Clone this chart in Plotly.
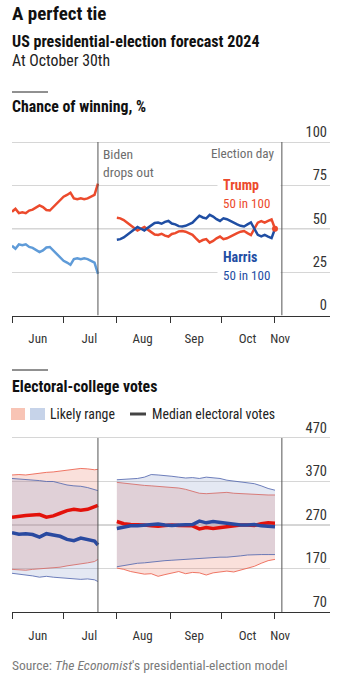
import pandas as pd
import plotly.graph_objects as go

# ---------------- data ----------------
# Chance of winning, % (top panel)
biden_period_dates = pd.date_range("2024-06-01", "2024-07-21", freq="2D")
trump_prob_biden_period = [59.8, 61.5, 59.0, 59.5, 59.0, 60.5, 61.0, 62.2, 63.5, 62.5, 60.8, 60.5, 62.5,
                           64.0, 66.5, 68.5, 69.5, 70.8, 67.5, 67.0, 67.5, 67.0, 67.5, 68.5, 69.5, 76.0]
biden_prob = [40.2, 38.5, 41.0, 40.5, 41.0, 39.5, 39.0, 37.8, 36.5, 37.5, 39.2, 39.5, 37.5,
              36.0, 33.5, 31.5, 30.5, 29.2, 32.5, 33.0, 32.5, 33.0, 32.5, 31.5, 30.5, 24.0]

harris_period_dates = pd.date_range("2024-08-01", "2024-11-01", freq="2D")
harris_prob = [43.7, 44.0, 45.0, 46.5, 48.0, 49.5, 51.0, 50.0, 49.0, 50.5, 52.0, 53.3, 53.6, 52.9, 54.0,
               54.5, 53.0, 52.5, 51.5, 51.3, 51.7, 52.5, 53.5, 55.6, 57.5, 56.5, 56.0, 58.0, 57.0, 55.5,
               54.5, 56.0, 55.5, 54.5, 53.3, 52.5, 51.7, 51.3, 52.5, 53.6, 50.0, 46.5, 45.6, 46.5, 45.5,
               44.6, 50.0]
trump_prob_harris_period = [56.3, 56.0, 55.0, 53.5, 52.0, 50.5, 49.0, 50.0, 51.0, 49.5, 48.0, 46.7, 46.4,
                            47.1, 46.0, 45.5, 47.0, 47.5, 48.5, 48.7, 48.3, 47.5, 46.5, 44.4, 42.5, 43.5,
                            44.0, 42.0, 43.0, 44.5, 45.5, 44.0, 44.5, 45.5, 46.7, 47.5, 48.3, 48.7, 47.5,
                            46.4, 50.0, 53.5, 54.4, 53.5, 54.5, 55.4, 50.0]

# Electoral-college votes (bottom panel)
ev_biden_dates = list(pd.date_range("2024-06-01", periods=13, freq="4D")) + [pd.Timestamp("2024-07-21")]
trump_ev_med_b = [288, 291, 292, 293, 294, 288, 291, 297, 303, 306, 304, 306, 311, 315]
trump_ev_hi_b = [385, 386, 385, 387, 390, 391, 392, 394, 397, 398, 400, 399, 397, 398]
trump_ev_lo_b = [168, 167, 166, 168, 169, 170, 171, 173, 176, 178, 180, 183, 186, 191]
biden_ev_med = [252, 249, 250, 248, 242, 250, 247, 244, 237, 234, 240, 237, 233, 224]
biden_ev_hi = [377, 376, 375, 374, 372, 370, 370, 366, 362, 360, 359, 356, 352, 349]
biden_ev_lo = [159, 157, 156, 153, 150, 152, 150, 149, 147, 146, 145, 146, 144, 140]

ev_harris_dates = pd.date_range("2024-08-01", "2024-11-01", freq="4D")
harris_ev_med = [262, 266, 268, 268, 269, 271, 272, 270, 269, 270, 270, 271, 279, 275, 278, 276, 272, 271,
                 270, 270, 271, 268, 266, 266]
harris_ev_hi = [374, 375, 376, 377, 380, 386, 385, 384, 382, 380, 378, 379, 377, 380, 379, 377, 373, 371,
                369, 368, 365, 360, 354, 350]
harris_ev_lo = [174, 177, 179, 182, 183, 185, 186, 188, 189, 190, 191, 192, 194, 195, 195, 196, 196, 197,
                199, 201, 202, 202, 202, 202]
trump_ev_med_h = [278, 273, 271, 271, 270, 268, 267, 269, 270, 269, 269, 268, 261, 264, 262, 264, 267, 268,
                  270, 270, 269, 273, 275, 274]
trump_ev_hi_h = [368, 366, 364, 362, 361, 360, 359, 357, 356, 355, 352, 348, 343, 342, 343, 344, 345, 343,
                 342, 341, 340, 340, 339, 339]
trump_ev_lo_h = [171, 168, 163, 160, 157, 158, 152, 156, 160, 163, 158, 161, 160, 155, 160, 162, 164, 162,
                 166, 170, 175, 182, 188, 191]

month_starts = ["2024-06-01", "2024-07-01", "2024-08-01", "2024-09-01", "2024-10-01", "2024-11-01"]
month_label_pos = ["2024-06-16", "2024-07-16", "2024-08-16", "2024-09-15", "2024-10-16", "2024-11-04"]
month_labels = ["Jun", "Jul", "Aug", "Sep", "Oct", "Nov"]
prob_ticks = [0, 25, 50, 75, 100]
ev_ticks = [70, 170, 270, 370, 470]
biden_out = "2024-07-21"
election_day = "2024-11-05"

# ---------------- style ----------------
FONT = "Roboto Condensed, Roboto, sans-serif"
TRUMP = "#ec4a2c"
HARRIS = "#1f4ea3"
BIDEN = "#5f9bd8"
EV_RED = "#e3120b"
EV_BLUE = "#2a4aa0"
RED_FILL = "rgba(235,135,115,0.26)"
BLUE_FILL = "rgba(130,150,200,0.22)"
RED_EDGE = "rgba(236,95,75,0.85)"
BLUE_EDGE = "rgba(85,105,175,0.85)"
GRID = "#d6d6d6"
W, H = 361, 675
ML, MR = 12, 31
PW = W - ML - MR
TOP_PX_PER_UNIT = 1.735
BOT_PX_PER_UNIT = 0.435
TOP_RANGE = [0, 112]
BOT_RANGE = [70, 515]


def px_x(p):
    return (p - ML) / PW


def px_y(p):
    return 1 - p / H


fig = go.Figure()

# ---------- top panel ----------
fig.add_trace(go.Scatter(x=biden_period_dates, y=biden_prob, mode="lines",
                         line=dict(color=BIDEN, width=2.5), xaxis="x", yaxis="y"))
fig.add_trace(go.Scatter(x=biden_period_dates, y=trump_prob_biden_period, mode="lines",
                         line=dict(color=TRUMP, width=2.5), xaxis="x", yaxis="y"))
fig.add_trace(go.Scatter(x=harris_period_dates, y=trump_prob_harris_period, mode="lines",
                         line=dict(color=TRUMP, width=2.5), xaxis="x", yaxis="y"))
fig.add_trace(go.Scatter(x=harris_period_dates, y=harris_prob, mode="lines",
                         line=dict(color=HARRIS, width=2.5), xaxis="x", yaxis="y"))
fig.add_trace(go.Scatter(x=[harris_period_dates[-1]], y=[trump_prob_harris_period[-1]], mode="markers",
                         marker=dict(color=TRUMP, size=6), xaxis="x", yaxis="y"))

# ---------- bottom panel ----------
def band(x, hi, lo, fill, edge):
    fig.add_trace(go.Scatter(x=x, y=hi, mode="lines", line=dict(color=edge, width=1),
                             xaxis="x2", yaxis="y2"))
    fig.add_trace(go.Scatter(x=x, y=lo, mode="lines", line=dict(color=edge, width=1),
                             fill="tonexty", fillcolor=fill, xaxis="x2", yaxis="y2"))


band(ev_biden_dates, trump_ev_hi_b, trump_ev_lo_b, RED_FILL, RED_EDGE)
band(ev_biden_dates, biden_ev_hi, biden_ev_lo, BLUE_FILL, BLUE_EDGE)
band(ev_harris_dates, trump_ev_hi_h, trump_ev_lo_h, RED_FILL, RED_EDGE)
band(ev_harris_dates, harris_ev_hi, harris_ev_lo, BLUE_FILL, BLUE_EDGE)

fig.add_trace(go.Scatter(x=ev_biden_dates, y=biden_ev_med, mode="lines",
                         line=dict(color=EV_BLUE, width=3.5), xaxis="x2", yaxis="y2"))
fig.add_trace(go.Scatter(x=ev_biden_dates, y=trump_ev_med_b, mode="lines",
                         line=dict(color=EV_RED, width=3.5), xaxis="x2", yaxis="y2"))
fig.add_trace(go.Scatter(x=ev_harris_dates, y=trump_ev_med_h, mode="lines",
                         line=dict(color=EV_RED, width=3.5), xaxis="x2", yaxis="y2"))
fig.add_trace(go.Scatter(x=ev_harris_dates, y=harris_ev_med, mode="lines",
                         line=dict(color=EV_BLUE, width=3.5), xaxis="x2", yaxis="y2"))

xcommon = dict(type="date", range=["2024-06-01", "2024-12-03"], showline=True, linecolor="#333",
               linewidth=1, showgrid=False, zeroline=False, tickmode="array",
               tickvals=month_label_pos, ticktext=month_labels, ticks="outside", ticklen=11,
               tickcolor="rgba(0,0,0,0)", tickfont=dict(size=13, color="#333", family=FONT),
               minor=dict(tickmode="array", tickvals=month_starts, ticks="outside", ticklen=6,
                          tickcolor="#333", tickwidth=1, showgrid=False),
               fixedrange=True, automargin=False)
ycommon = dict(side="right", ticklabelposition="inside top", showgrid=True, gridcolor=GRID,
               gridwidth=1, zeroline=False, ticks="", showline=False,
               tickfont=dict(size=14.5, color="#333", family=FONT), fixedrange=True, automargin=False)

top_bottom_px, bot_bottom_px = 315.5, 612
top_top_px = top_bottom_px - (TOP_RANGE[1] - TOP_RANGE[0]) * TOP_PX_PER_UNIT
bot_top_px = bot_bottom_px - (BOT_RANGE[1] - BOT_RANGE[0]) * BOT_PX_PER_UNIT

fig.update_layout(
    width=W, height=H, margin=dict(l=ML, r=MR, t=0, b=0),
    paper_bgcolor="white", plot_bgcolor="rgba(0,0,0,0)", showlegend=False,
    font=dict(family=FONT, color="#222"),
    xaxis=dict(xcommon, anchor="y"),
    xaxis2=dict(xcommon, anchor="y2"),
    yaxis=dict(ycommon, domain=[px_y(top_bottom_px), px_y(top_top_px)], range=TOP_RANGE,
               tickmode="array", tickvals=prob_ticks, anchor="x"),
    yaxis2=dict(ycommon, domain=[px_y(bot_bottom_px), px_y(bot_top_px)], range=BOT_RANGE,
                tickmode="array", tickvals=ev_ticks, anchor="x2"),
)

shapes = []
# darker mid lines
shapes.append(dict(type="line", xref="x domain", yref="y", x0=0, x1=1, y0=50, y1=50,
                   line=dict(color="#a8a8a8", width=1), layer="below"))
shapes.append(dict(type="line", xref="x2 domain", yref="y2", x0=0, x1=1, y0=270, y1=270,
                   line=dict(color="#a8a8a8", width=1), layer="below"))
# vertical event lines
for xr, yr, y0, y1 in [("x", "y", 0, 100), ("x2", "y2", 70, 470)]:
    for d in [biden_out, election_day]:
        shapes.append(dict(type="line", xref=xr, yref=yr, x0=d, x1=d, y0=y0, y1=y1,
                           line=dict(color="#555", width=1), layer="above"))
# short rules above section titles
for yy in [92, 370]:
    shapes.append(dict(type="line", xref="paper", yref="paper", x0=px_x(12), x1=px_x(48),
                       y0=px_y(yy), y1=px_y(yy), line=dict(color="#222", width=1)))
# legend swatches
shapes.append(dict(type="rect", xref="paper", yref="paper", x0=px_x(11), x1=px_x(25),
                   y0=px_y(420), y1=px_y(408), fillcolor="#f8c4b5", line=dict(width=0)))
shapes.append(dict(type="rect", xref="paper", yref="paper", x0=px_x(30), x1=px_x(45),
                   y0=px_y(420), y1=px_y(408), fillcolor="#c6d3e9", line=dict(width=0)))
shapes.append(dict(type="line", xref="paper", yref="paper", x0=px_x(130), x1=px_x(146),
                   y0=px_y(414), y1=px_y(414), line=dict(color="#444", width=3)))
fig.update_layout(shapes=shapes)

ann = []


def txt(text, x, y, size, color="#222", weight=400, xanchor="left", **kw):
    ann.append(dict(text=text, x=px_x(x), y=px_y(y), xref="paper", yref="paper", showarrow=False,
                    xanchor=xanchor, yanchor="middle", align=xanchor if xanchor != "center" else "center",
                    font=dict(size=size, color=color, family=FONT, weight=weight), **kw))


txt("A perfect tie", 10, 14, 19, "#111", 700)
txt("US presidential-election forecast 2024", 10, 41, 16, "#111", 700)
txt("At October 30th", 10, 60, 15.8, "#222", 400)
txt("Chance of winning, %", 10, 107, 15.8, "#111", 700)
txt("Electoral-college votes", 10, 386, 15.8, "#111", 700)
txt("Likely range", 48, 414, 13.8, "#222")
txt("Median electoral votes", 150, 414, 13.8, "#222")
txt("Source: <i>The Economist</i>'s presidential-election model", 10, 665, 13.5, "#7a7a7a")

# chart annotations in data coordinates
ann.append(dict(text="Biden<br>drops out", x=biden_out, y=100, xref="x", yref="y", xanchor="left",
                yanchor="top", xshift=3, yshift=-2, showarrow=False, align="left",
                font=dict(size=13.5, color="#6d6d6d", family=FONT)))
ann.append(dict(text="Election day", x=election_day, y=100, xref="x", yref="y", xanchor="right",
                yanchor="top", xshift=-5, yshift=-2, showarrow=False, align="right",
                font=dict(size=13.2, color="#6d6d6d", family=FONT)))
for name, color, yv in [("Trump", TRUMP, 70), ("Harris", HARRIS, 28.5)]:
    ann.append(dict(text=f"<b>{name}</b><br><span style='font-size:13px'>50 in 100</span>",
                    x=election_day, y=yv, xref="x", yref="y",
                    xanchor="right", yanchor="middle", xshift=-1, showarrow=False, align="left",
                    bgcolor="white", width=52, borderpad=5,
                    font=dict(size=14, color=color, family=FONT)))
fig.update_layout(annotations=ann)

fig.write_html("out.html", config={"displayModeBar": False},
               post_script="document.body.style.margin='0';")
